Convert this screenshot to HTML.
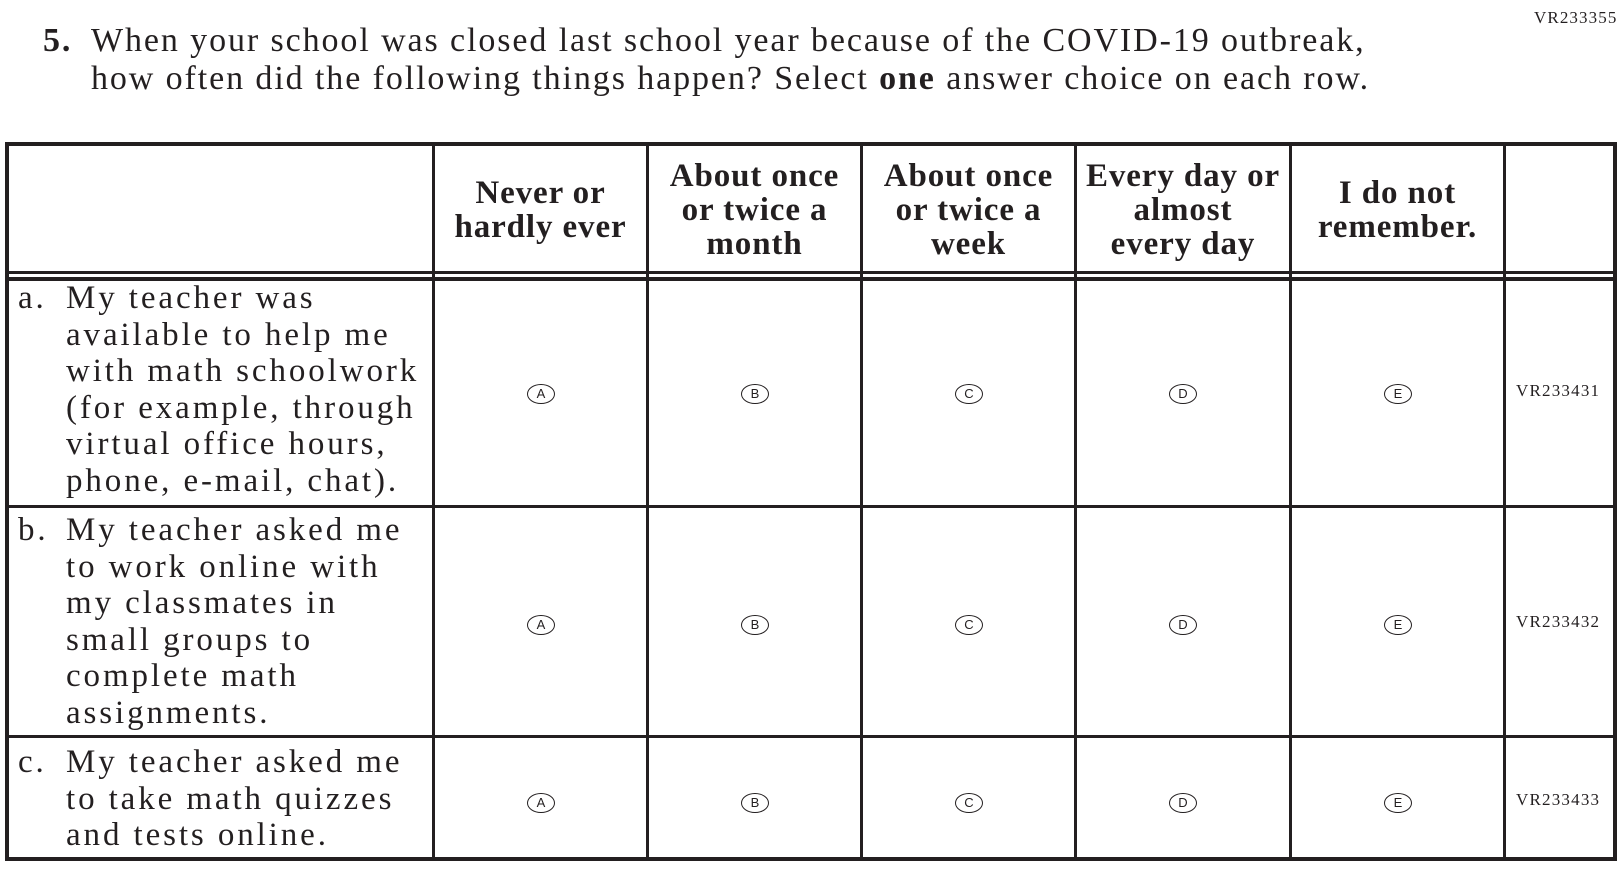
<!DOCTYPE html>
<html><head><meta charset="utf-8"><style>
body{margin:0;width:1621px;height:869px;background:#fff;position:relative;overflow:hidden;font-family:"Liberation Serif",serif;color:#231f20}
.a{position:absolute}
.h{position:absolute;background:#231f20}
.t{font-size:34px;white-space:nowrap;letter-spacing:1.9px}
.hd{position:absolute;top:146px;height:127px;display:flex;align-items:center;justify-content:center;text-align:center;font-weight:bold;font-size:33px;line-height:34px;letter-spacing:0.9px}
.rt{position:absolute;left:18px;font-size:33px;line-height:36.5px;letter-spacing:2.9px;white-space:nowrap}
.rt span{position:absolute;left:0}
.b{position:absolute;width:26px;height:18px;border:1.6px solid #231f20;border-radius:50%;font-size:13px;line-height:18px;text-align:center;font-family:"Liberation Sans",sans-serif;box-sizing:content-box}
.vr{position:absolute;font-size:17px;left:1516px;letter-spacing:1.2px}
</style></head><body>
<div class="a" style="left:1534px;top:8px;font-size:17px;letter-spacing:1.1px">VR233355</div>
<div class="a t" style="left:43px;top:22px"><b>5.</b></div>
<div class="a t" style="left:91px;top:22px">When your school was closed last school year because of the COVID-19 outbreak,</div>
<div class="a t" style="left:91px;top:60px">how often did the following things happen? Select <b>one</b> answer choice on each row.</div>

<div class="h" style="left:5px;top:142px;width:1612px;height:4px"></div>
<div class="h" style="left:5px;top:271px;width:1612px;height:3px"></div>
<div class="h" style="left:5px;top:277px;width:1612px;height:4px"></div>
<div class="h" style="left:5px;top:505px;width:1612px;height:3px"></div>
<div class="h" style="left:5px;top:735px;width:1612px;height:3px"></div>
<div class="h" style="left:5px;top:857px;width:1612px;height:4px"></div>
<div class="h" style="left:5px;top:142px;width:4px;height:719px"></div>
<div class="h" style="left:1613px;top:142px;width:4px;height:719px"></div>
<div class="h" style="left:432px;top:142px;width:3px;height:719px"></div>
<div class="h" style="left:646px;top:142px;width:3px;height:719px"></div>
<div class="h" style="left:860px;top:142px;width:3px;height:719px"></div>
<div class="h" style="left:1074px;top:142px;width:3px;height:719px"></div>
<div class="h" style="left:1289px;top:142px;width:3px;height:719px"></div>
<div class="h" style="left:1503px;top:142px;width:3px;height:719px"></div>

<div class="hd" style="left:435px;width:211px">Never or<br>hardly ever</div>
<div class="hd" style="left:649px;width:211px">About once<br>or twice a<br>month</div>
<div class="hd" style="left:863px;width:211px">About once<br>or twice a<br>week</div>
<div class="hd" style="left:1077px;width:212px">Every day or<br>almost<br>every day</div>
<div class="hd" style="left:1292px;width:211px">I do not<br>remember.</div>

<div class="rt" style="top:280px"><span>a.</span><div style="margin-left:48px">My teacher was<br>available to help me<br>with math schoolwork<br>(for example, through<br>virtual office hours,<br>phone, e-mail, chat).</div></div>
<div class="rt" style="top:512px"><span>b.</span><div style="margin-left:48px">My teacher asked me<br>to work online with<br>my classmates in<br>small groups to<br>complete math<br>assignments.</div></div>
<div class="rt" style="top:744px"><span>c.</span><div style="margin-left:48px">My teacher asked me<br>to take math quizzes<br>and tests online.</div></div>

<div class="b" style="left:527px;top:384px">A</div><div class="b" style="left:741px;top:384px">B</div><div class="b" style="left:955px;top:384px">C</div><div class="b" style="left:1169px;top:384px">D</div><div class="b" style="left:1384px;top:384px">E</div>
<div class="b" style="left:527px;top:615px">A</div><div class="b" style="left:741px;top:615px">B</div><div class="b" style="left:955px;top:615px">C</div><div class="b" style="left:1169px;top:615px">D</div><div class="b" style="left:1384px;top:615px">E</div>
<div class="b" style="left:527px;top:793px">A</div><div class="b" style="left:741px;top:793px">B</div><div class="b" style="left:955px;top:793px">C</div><div class="b" style="left:1169px;top:793px">D</div><div class="b" style="left:1384px;top:793px">E</div>

<div class="vr" style="top:381px">VR233431</div>
<div class="vr" style="top:612px">VR233432</div>
<div class="vr" style="top:790px">VR233433</div>
</body></html>
